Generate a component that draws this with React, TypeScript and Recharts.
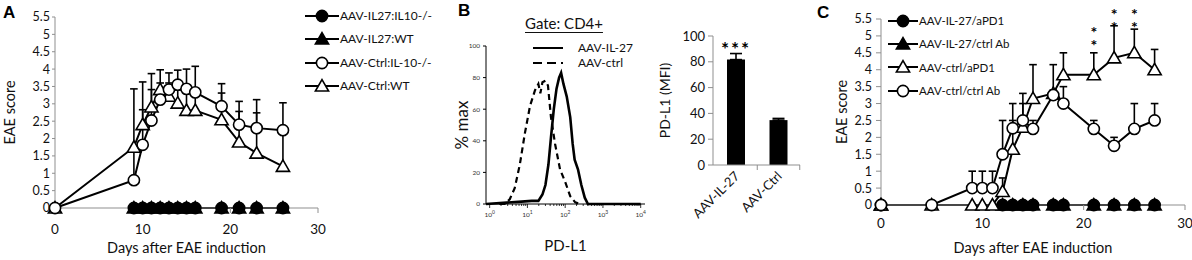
import React from "react";
import {
  LineChart,
  Line,
  XAxis,
  YAxis,
  ErrorBar,
  BarChart,
  Bar,
  LabelList,
  Legend,
} from "recharts";

const FONT = "Lato, 'Open Sans', sans-serif";
const INK = "#000";
const TEXT = "#111";
const AXIS_GREY = "#8f8f8f";

// ─── Panel A: EAE score, IL-10-/- vs WT ────────────────────────────────
const daysA = [0, 9, 10, 11, 12, 13, 14, 15, 16, 19, 21, 23, 26];
const daysTreatedA = [9, 10, 11, 12, 13, 14, 15, 16, 19, 21, 23, 26];
const il27Il10KoA = [0, 0, 0, 0, 0, 0, 0, 0, 0, 0, 0, 0];
const il27WtA = [0, 0, 0, 0, 0, 0, 0, 0, 0, 0, 0, 0];
const ctrlIl10KoA = [0, 0.8, 1.82, 2.52, 3.12, 3.41, 3.55, 3.43, 3.33, 2.93, 2.4, 2.3, 2.24];
const ctrlIl10KoTopA = [0, 3.43, 3.63, 3.87, 3.6, 3.89, 3.97, 4.0, 4.08, 3.58, 3.07, 3.12, 3.03];
const ctrlWtA = [0, 1.75, 2.4, 2.91, 3.41, 3.22, 3.02, 2.81, 2.81, 2.54, 1.9, 1.58, 1.2];
const ctrlWtTopA = [0, 1.75, 2.83, 3.41, 3.98, 3.6, 3.4, 3.3, 3.25, 3.31, 2.78, 2.74, 2.25];

// ─── Panel B: PD-L1 histogram (gate CD4+) and MFI bars ─────────────────
const il27HistMfi = [0.8, 7, 13, 19.5, 25, 30, 36, 42, 50, 59, 69, 78, 90, 110, 136, 158, 178, 218, 268, 330, 400, 10000];
const il27HistPct = [0, 1.5, 2, 2, 6, 12, 25, 42, 60, 73, 80, 83, 76, 68, 55, 38, 28, 22, 12, 4, 0, 0];
const ctrlHistMfi = [1.8, 2.5, 3.4, 4.6, 6.3, 8.6, 11.7, 15.9, 19.5, 22, 25, 30, 35, 42, 54, 73, 100, 136, 185, 250];
const ctrlHistPct = [0, 0, 3, 10, 25, 45, 62, 72, 76, 70, 77, 78, 75, 55, 38, 22, 14, 5, 1, 0];
const histTicks = [
  1, 2, 3, 4, 5, 6, 7, 8, 9,
  10, 20, 30, 40, 50, 60, 70, 80, 90,
  100, 200, 300, 400, 500, 600, 700, 800, 900,
  1000, 2000, 3000, 4000, 5000, 6000, 7000, 8000, 9000,
  10000,
];
const histPctTicks = [0, 20, 40, 60, 80, 100];

const mfiGroups = ["AAV-IL-27", "AAV-Ctrl"];
const mfiMeans = [81.7, 34.8];
const mfiSem = [4.7, 1.3];
const mfiSig = ["***", ""];
const mfiTicks = [0, 20, 40, 60, 80, 100];

// ─── Panel C: EAE score with anti-PD1 ──────────────────────────────────
const daysC = [0, 5, 9, 10, 11, 12, 13, 14, 15, 17, 18, 21, 23, 25, 27];
const daysTreatedC = [0, 12, 13, 14, 15, 17, 18, 21, 23, 25, 27];
const il27Pd1C = [0, 0, 0, 0, 0, 0, 0, 0, 0, 0, 0];
const il27CtrlAbC = [0, 0, 0, 0, 0, 0, 0, 0, 0, 0, 0];
const ctrlPd1C = [0, 0, 0, 0, 0, 0.4, 1.65, 2.3, 3.15, 3.3, 3.85, 3.85, 4.35, 4.5, 4.0];
const ctrlPd1TopC = [0, 0, 0, 0, 0, 0.8, 2.5, 3.0, 4.15, 3.4, 4.5, 4.5, 5.3, 5.2, 4.6];
const ctrlCtrlAbC = [0, 0, 0.5, 0.5, 0.5, 1.5, 2.27, 2.5, 2.25, 3.25, 3.0, 2.25, 1.75, 2.25, 2.5];
const ctrlCtrlAbTopC = [0, 0, 1.0, 1.0, 1.0, 2.5, 3.0, 3.3, 2.5, 4.15, 3.5, 2.5, 2.0, 3.0, 3.0];
const sigDaysC = [21, 23, 25];
const sigLevelC = [4.88, 5.41, 5.41];

const dayTicks = [0, 10, 20, 30];
const scoreTicks = [0, 0.5, 1, 1.5, 2, 2.5, 3, 3.5, 4, 4.5, 5, 5.5];

type Shape = "circle" | "triangle";

const toRows = (days: number[], vals: number[], tops?: number[]) =>
  days.map((d, i) => ({
    day: d,
    score: vals[i],
    err: [0, tops ? Math.max(tops[i] - vals[i], 0) : 0],
  }));

const makeDot = (shape: Shape, filled: boolean) => (p: any) => {
  const { cx, cy, index } = p;
  const fill = filled ? INK : "#fff";
  if (cx == null || cy == null) return <g key={`n${index}`} />;
  if (shape === "circle") {
    return <circle key={`c${index}`} cx={cx} cy={cy} r={5.6} fill={fill} stroke={INK} strokeWidth={1.6} />;
  }
  return (
    <path
      key={`t${index}`}
      d={`M${cx} ${cy - 6.4}L${cx + 6.6} ${cy + 5}L${cx - 6.6} ${cy + 5}Z`}
      fill={fill}
      stroke={INK}
      strokeWidth={1.6}
    />
  );
};

// two asterisks stacked vertically, set as a single vertical text run
const starPair = (p: any) => (
  <text
    key={`s${p.index}`}
    x={p.cx}
    y={p.cy - 5}
    fontSize={16}
    fontWeight={700}
    fill={INK}
    textAnchor="middle"
    style={{ writingMode: "vertical-rl", textOrientation: "upright", letterSpacing: -6 }}
  >
    **
  </text>
);

type LegendItem = { name: string; shape?: Shape; filled?: boolean; dash?: string };

function LegendRows({ items, rowH, lineW, fontSize, gap }: { items: LegendItem[]; rowH: number; lineW: number; fontSize: number; gap: number }) {
  return (
    <div style={{ fontFamily: FONT, fontSize, color: TEXT, lineHeight: 1 }}>
      {items.map((it) => (
        <div key={it.name} style={{ display: "flex", alignItems: "center", height: rowH }}>
          <svg width={lineW} height={16} style={{ flex: "none", overflow: "visible" }}>
            <line x1={0} x2={lineW} y1={8} y2={8} stroke={INK} strokeWidth={it.dash ? 2.2 : 2} strokeDasharray={it.dash} />
            {it.shape && makeDot(it.shape, !!it.filled)({ cx: lineW / 2, cy: 8, index: 0 })}
          </svg>
          <span style={{ marginLeft: gap, whiteSpace: "nowrap" }}>{it.name}</span>
        </div>
      ))}
    </div>
  );
}

const legendA: LegendItem[] = [
  { name: "AAV-IL27:IL10-/-", shape: "circle", filled: true },
  { name: "AAV-IL27:WT", shape: "triangle", filled: true },
  { name: "AAV-Ctrl:IL-10-/-", shape: "circle", filled: false },
  { name: "AAV-Ctrl:WT", shape: "triangle", filled: false },
];
const legendC: LegendItem[] = [
  { name: "AAV-IL-27/aPD1", shape: "circle", filled: true },
  { name: "AAV-IL-27/ctrl Ab", shape: "triangle", filled: true },
  { name: "AAV-ctrl/aPD1", shape: "triangle", filled: false },
  { name: "AAV-ctrl/ctrl Ab", shape: "circle", filled: false },
];
const legendB: LegendItem[] = [
  { name: "AAV-IL-27" },
  { name: "AAV-ctrl", dash: "9 5" },
];

const seriesLine = (key: string, data: any[], shape: Shape, filled: boolean) => (
  <Line
    key={key}
    data={data}
    dataKey="score"
    stroke={INK}
    strokeWidth={2}
    dot={makeDot(shape, filled)}
    activeDot={false}
    legendType="none"
    isAnimationActive={false}
  />
);

const errorLine = (key: string, data: any[]) => (
  <Line key={key} data={data} dataKey="score" stroke="none" dot={false} activeDot={false} legendType="none" isAnimationActive={false}>
    <ErrorBar dataKey="err" width={3.8} strokeWidth={1.6} stroke={INK} direction="y" />
  </Line>
);

function PanelA() {
  const wt = toRows(daysA, ctrlWtA, ctrlWtTopA);
  const ko = toRows(daysA, ctrlIl10KoA, ctrlIl10KoTopA);
  return (
    <LineChart width={430} height={260} margin={{ top: 17, right: 112, bottom: 0, left: 0 }}>
      <XAxis
        type="number"
        dataKey="day"
        domain={[0, 30]}
        ticks={dayTicks}
        interval={0}
        height={52}
        stroke={AXIS_GREY}
        tick={{ fill: TEXT, fontSize: 13.5 }}
        tickSize={5}
        tickMargin={11}
        label={{ value: "Days after EAE induction", position: "insideBottom", offset: 7, fill: TEXT, fontSize: 14.5 }}
      />
      <YAxis
        type="number"
        domain={[0, 5.5]}
        ticks={scoreTicks}
        interval={0}
        width={55}
        stroke={AXIS_GREY}
        tick={{ fill: TEXT, fontSize: 12.5 }}
        tickSize={3}
        tickMargin={2}
        label={{ value: "EAE score", angle: -90, position: "insideLeft", offset: 10, fill: TEXT, fontSize: 14.5, style: { textAnchor: "middle" } }}
      />
      {errorLine("eWt", wt)}
      {errorLine("eKo", ko)}
      {seriesLine("il27Wt", toRows(daysTreatedA, il27WtA), "triangle", true)}
      {seriesLine("il27Ko", toRows(daysTreatedA, il27Il10KoA), "circle", true)}
      {seriesLine("ctrlWt", wt, "triangle", false)}
      {seriesLine("ctrlKo", ko, "circle", false)}
      <Legend
        layout="horizontal"
        verticalAlign="middle"
        align="center"
        wrapperStyle={{ left: 305, top: 4, width: "auto" }}
        content={() => <LegendRows items={legendA} rowH={23.5} lineW={34} fontSize={12} gap={1} />}
      />
    </LineChart>
  );
}

const LogTick = (p: any) => {
  const { x, y, payload } = p;
  const lg = Math.log10(payload.value);
  const exp = Math.round(lg);
  const major = Math.abs(lg - exp) < 1e-6;
  return (
    <g>
      <line x1={x} x2={x} y1={y} y2={y + (major ? 4 : 2)} stroke={INK} strokeWidth={0.8} />
      {major && (
        <text x={x} y={y + 13} textAnchor="middle" fontSize={6.5} fill="#333">
          10
          <tspan dy={-3} fontSize={5}>
            {exp}
          </tspan>
        </text>
      )}
    </g>
  );
};

function PanelBHist() {
  const il27 = il27HistMfi.map((m, i) => ({ mfi: m, pct: il27HistPct[i] }));
  const ctrl = ctrlHistMfi.map((m, i) => ({ mfi: m, pct: ctrlHistPct[i] }));
  return (
    <LineChart width={215} height={260} margin={{ top: 46, right: 10, bottom: 0, left: 0 }}>
      <XAxis
        type="number"
        dataKey="mfi"
        scale="log"
        domain={[0.8, 13000]}
        allowDataOverflow
        ticks={histTicks}
        interval={0}
        height={56}
        stroke={INK}
        tickLine={false}
        tickSize={0}
        tickMargin={0}
        tick={<LogTick />}
        label={{ value: "PD-L1", position: "insideBottom", offset: 9, fill: TEXT, fontSize: 15 }}
      />
      <YAxis
        type="number"
        domain={[0, 100]}
        ticks={histPctTicks}
        interval={0}
        width={46}
        stroke={INK}
        tick={{ fill: "#333", fontSize: 6.5 }}
        tickSize={3}
        tickMargin={3}
        label={{ value: "% max", angle: -90, position: "insideLeft", offset: 22, fill: TEXT, fontSize: 17, style: { textAnchor: "middle" } }}
      />
      <Line data={ctrl} dataKey="pct" stroke={INK} strokeWidth={2.2} strokeDasharray="6 4" dot={false} activeDot={false} legendType="none" isAnimationActive={false} />
      <Line data={il27} dataKey="pct" stroke={INK} strokeWidth={2.6} dot={false} activeDot={false} legendType="none" isAnimationActive={false} />
      <Legend
        layout="horizontal"
        verticalAlign="middle"
        align="center"
        wrapperStyle={{ left: 93, top: 41, width: "auto" }}
        content={() => <LegendRows items={legendB} rowH={14.5} lineW={30} fontSize={12} gap={15} />}
      />
    </LineChart>
  );
}

const GroupTick = (p: any) => {
  const { x, y, payload } = p;
  const ax = x + 4;
  const ay = y + 12;
  return (
    <g>
      <line x1={x + 21} x2={x + 21} y1={y} y2={y + 5} stroke={AXIS_GREY} />
      <text x={ax} y={ay} textAnchor="end" fontSize={13} fill={TEXT} transform={`rotate(-45 ${ax} ${ay})`}>
        {payload.value}
      </text>
    </g>
  );
};

function PanelBBars() {
  const rows = mfiGroups.map((g, i) => ({ group: g, mfi: mfiMeans[i], sem: [0, mfiSem[i]], sig: mfiSig[i] }));
  return (
    <BarChart width={155} height={260} data={rows} margin={{ top: 36, right: 5, bottom: 0, left: 0 }}>
      <XAxis
        dataKey="group"
        height={95}
        interval={0}
        stroke={AXIS_GREY}
        tickLine={false}
        tickSize={0}
        tickMargin={0}
        padding={{ left: 2, right: 0 }}
        tick={<GroupTick />}
      />
      <YAxis
        type="number"
        domain={[0, 100]}
        ticks={mfiTicks}
        interval={0}
        width={63}
        stroke={AXIS_GREY}
        tick={{ fill: TEXT, fontSize: 13 }}
        tickSize={5}
        tickMargin={3}
        label={{ value: "PD-L1 (MFI)", angle: -90, position: "insideLeft", offset: 15, fill: TEXT, fontSize: 14, style: { textAnchor: "middle" } }}
      />
      <Bar dataKey="mfi" fill={INK} barSize={18} isAnimationActive={false}>
        <ErrorBar dataKey="sem" width={6} strokeWidth={1.6} stroke={INK} direction="y" />
        <LabelList dataKey="sig" position="top" offset={4} fill={INK} fontSize={19} fontWeight={700} style={{ letterSpacing: 2 }} />
      </Bar>
    </BarChart>
  );
}

function PanelC() {
  const pd1 = toRows(daysC, ctrlPd1C, ctrlPd1TopC);
  const ctrl = toRows(daysC, ctrlCtrlAbC, ctrlCtrlAbTopC);
  const stars = sigDaysC.map((d, i) => ({ day: d, score: sigLevelC[i] }));
  return (
    <LineChart width={370} height={260} margin={{ top: 19, right: 7, bottom: 0, left: 0 }}>
      <XAxis
        type="number"
        dataKey="day"
        domain={[0, 30]}
        ticks={dayTicks}
        interval={0}
        height={55}
        stroke={AXIS_GREY}
        tick={{ fill: TEXT, fontSize: 13.5 }}
        tickSize={5}
        tickMargin={8}
        label={{ value: "Days after EAE induction", position: "insideBottom", offset: 7, fill: TEXT, fontSize: 14.5 }}
      />
      <YAxis
        type="number"
        domain={[0, 5.5]}
        ticks={scoreTicks}
        interval={0}
        width={59}
        stroke={AXIS_GREY}
        tick={{ fill: TEXT, fontSize: 12.5 }}
        tickSize={5}
        tickMargin={4}
        label={{ value: "EAE score", angle: -90, position: "insideLeft", offset: 20, fill: TEXT, fontSize: 14.5, style: { textAnchor: "middle" } }}
      />
      {errorLine("ePd1", pd1)}
      {errorLine("eCtrl", ctrl)}
      {seriesLine("il27Ctrl", toRows(daysTreatedC, il27CtrlAbC), "triangle", true)}
      {seriesLine("il27Pd1", toRows(daysTreatedC, il27Pd1C), "circle", true)}
      {seriesLine("ctrlPd1", pd1, "triangle", false)}
      {seriesLine("ctrlCtrl", ctrl, "circle", false)}
      <Line data={stars} dataKey="score" stroke="none" dot={starPair} activeDot={false} legendType="none" isAnimationActive={false} />
      <Legend
        layout="horizontal"
        verticalAlign="middle"
        align="center"
        wrapperStyle={{ left: 66, top: 9, width: "auto" }}
        content={() => <LegendRows items={legendC} rowH={23.4} lineW={30} fontSize={11.5} gap={1} />}
      />
    </LineChart>
  );
}

const letterStyle: React.CSSProperties = {
  position: "absolute",
  fontFamily: "'Liberation Sans', Arial, sans-serif",
  fontWeight: 700,
  fontSize: 17,
  lineHeight: 1,
  color: INK,
};

export default function App() {
  return (
    <div style={{ position: "absolute", left: 0, top: 0, width: 1192, height: 260, background: "#fff", overflow: "hidden", fontFamily: FONT }}>
      <div style={{ position: "absolute", left: 0, top: 0 }}>
        <PanelA />
      </div>
      <div style={{ position: "absolute", left: 440, top: 0 }}>
        <PanelBHist />
      </div>
      <div style={{ position: "absolute", left: 650, top: 0 }}>
        <PanelBBars />
      </div>
      <div style={{ position: "absolute", left: 822, top: 0 }}>
        <PanelC />
      </div>
      <div style={{ ...letterStyle, left: 3, top: 4 }}>A</div>
      <div style={{ ...letterStyle, left: 458, top: 2 }}>B</div>
      <div style={{ ...letterStyle, left: 817, top: 4 }}>C</div>
      <div
        style={{
          position: "absolute",
          left: 525,
          top: 16,
          fontFamily: FONT,
          fontSize: 15,
          lineHeight: 1,
          color: TEXT,
          textDecoration: "underline",
          textUnderlineOffset: 3,
        }}
      >
        Gate: CD4+
      </div>
    </div>
  );
}
